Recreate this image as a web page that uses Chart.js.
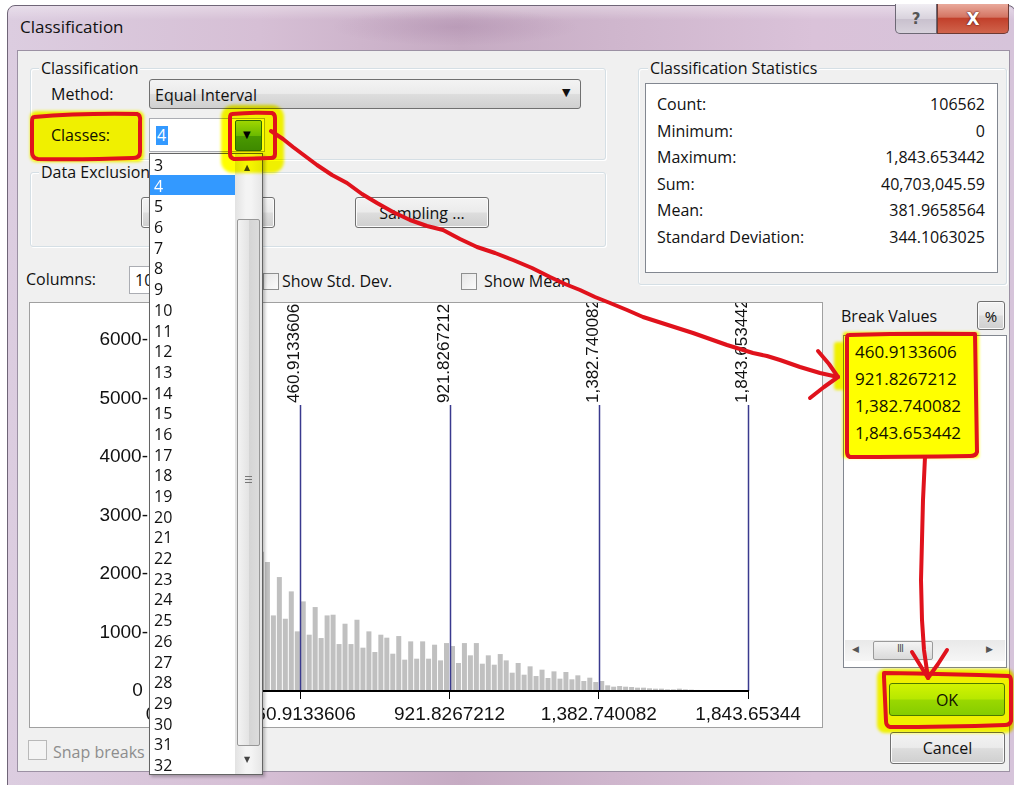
<!DOCTYPE html>
<html>
<head>
<meta charset="utf-8">
<script src="https://cdn.jsdelivr.net/npm/chart.js@4.4.1/dist/chart.umd.min.js"></script>
<style>
  html,body{margin:0;padding:0;background:#fff;}
  body{width:1014px;height:785px;position:relative;overflow:hidden;font-family:'Open Sans',sans-serif;}
  .abs{position:absolute;}
  .t{position:absolute;font:16px 'Open Sans',sans-serif;line-height:20px;white-space:nowrap;color:#111;}
  .group{position:absolute;border:1px solid #d5dfe5;border-radius:3px;box-shadow:inset 1px 1px 0 #fff,1px 1px 0 #fff;}
  .glabel{position:absolute;background:#f0f0f0;padding:0 2px;font:16px 'Open Sans',sans-serif;line-height:20px;white-space:nowrap;color:#111;}
  .btn{position:absolute;box-sizing:border-box;border:1px solid #707070;border-radius:3px;
       background:linear-gradient(#f3f3f3 0%,#ebebeb 48%,#dddddd 52%,#cfcfcf 100%);
       box-shadow:inset 0 0 0 1px #fbfbfb;font:16px 'Open Sans',sans-serif;color:#111;
       display:flex;align-items:center;justify-content:center;white-space:nowrap;}
  .chk{position:absolute;box-sizing:border-box;border:1px solid #8e8f8f;background:linear-gradient(135deg,#e6e6e6,#fbfbfb);}
  .item{height:20.7px;line-height:20.7px;padding-left:4px;font:16px 'Open Sans',sans-serif;color:#111;}
</style>
</head>
<body>
<!-- window frame -->
<div class="abs" style="left:7px;top:5px;width:1007px;height:780px;border:1px solid #6f6577;border-radius:8px 8px 0 0;
     background:linear-gradient(90deg,#dccde0 0%,#d6bfd5 25%,#c6abc3 45%,#cfb6cd 60%,#dac2d9 80%,#d6c4da 100%);"></div>
<div class="abs" style="left:8px;top:6px;width:1006px;height:14px;border-radius:8px 8px 0 0;background:linear-gradient(rgba(255,255,255,0.35),rgba(255,255,255,0));"></div>
<div class="abs" style="left:330px;top:8px;width:250px;height:38px;background:radial-gradient(ellipse at center,rgba(150,110,150,0.25),rgba(150,110,150,0) 70%);"></div>
<div class="t" style="left:20px;top:17px;font-size:17px;">Classification</div>
<!-- caption buttons -->
<div class="abs" style="left:895px;top:4px;width:42px;height:30px;box-sizing:border-box;border:1px solid #6d6875;border-top:none;border-radius:0 0 0 5px;
     background:linear-gradient(#f1eef3,#d9d3dd 50%,#c8c0cd 51%,#d8d2dc);display:flex;align-items:center;justify-content:center;font:bold 15px 'DejaVu Sans';color:#555;">?</div>
<div class="abs" style="left:937px;top:4px;width:72px;height:30px;box-sizing:border-box;border:1px solid #6d3a33;border-top:none;border-radius:0 0 5px 0;
     background:linear-gradient(#e9a99b,#d47563 45%,#c2402b 50%,#d0644c 100%);display:flex;align-items:center;justify-content:center;font:bold 17px 'DejaVu Sans';color:#fff;text-shadow:0 0 2px #5a1a10,0 0 1px #5a1a10;">X</div>

<!-- client area -->
<div class="abs" style="left:17px;top:50px;width:993px;height:722px;box-sizing:border-box;border:1px solid #9c91a4;background:#f0f0f0;"></div>

<!-- Classification group -->
<div class="group" style="left:30px;top:68px;width:574px;height:90px;"></div>
<div class="glabel" style="left:39px;top:58px;">Classification</div>
<div class="t" style="left:51px;top:84px;">Method:</div>
<div class="abs" style="left:149px;top:79px;width:432px;height:30px;box-sizing:border-box;border:1px solid #707070;border-radius:3px;
     background:linear-gradient(#f3f3f3,#ebebeb 48%,#dddddd 52%,#d0d0d0);"></div>
<div class="t" style="left:155px;top:85px;">Equal Interval</div>
<div class="abs" style="left:562px;top:86px;font:11px 'DejaVu Sans';color:#111;">&#9660;</div>

<div class="t" style="left:51px;top:125px;">Classes:</div>
<div class="abs" style="left:149px;top:118px;width:116px;height:34px;box-sizing:border-box;border:1px solid #abadb3;background:#fff;"></div>
<div class="abs" style="left:156px;top:126px;width:12px;height:19px;background:#3399ff;"></div>
<div class="t" style="left:157px;top:125px;color:#fff;">4</div>
<div class="abs" style="left:235px;top:120px;width:27px;height:31px;box-sizing:border-box;border:1px solid #2f6a12;border-radius:2px;
     background:linear-gradient(#9fd65a,#6cba2c 50%,#4a9a17 51%,#3f8a12);"></div>
<div class="abs" style="left:243px;top:129px;font:10px 'DejaVu Sans';color:#000;">&#9660;</div>

<!-- Data exclusion group -->
<div class="group" style="left:30px;top:172px;width:574px;height:73px;"></div>
<div class="glabel" style="left:39px;top:162px;">Data Exclusion</div>
<div class="btn" style="left:141px;top:197px;width:134px;height:31px;">Query ...</div>
<div class="btn" style="left:355px;top:197px;width:134px;height:31px;">Sampling ...</div>

<!-- columns row -->
<div class="t" style="left:26px;top:269px;">Columns:</div>
<div class="abs" style="left:129px;top:266px;width:62px;height:28px;box-sizing:border-box;border:1px solid #abadb3;background:#fff;"></div>
<div class="t" style="left:135px;top:270px;">100</div>
<div class="chk" style="left:263px;top:273px;width:16px;height:17px;"></div>
<div class="t" style="left:282px;top:271px;">Show Std. Dev.</div>
<div class="chk" style="left:461px;top:273px;width:16px;height:17px;"></div>
<div class="t" style="left:484px;top:271px;">Show Mean</div>

<!-- statistics group -->
<div class="group" style="left:638px;top:68px;width:367px;height:215px;"></div>
<div class="glabel" style="left:648px;top:58px;">Classification Statistics</div>
<div class="abs" style="left:645px;top:83px;width:353px;height:190px;box-sizing:border-box;border:1px solid #828790;background:#fff;"></div>
<div id="stats"></div>

<!-- histogram panel -->
<div class="abs" style="left:29px;top:302px;width:794px;height:426px;box-sizing:border-box;border:1px solid #a0a0a0;background:#fff;overflow:hidden;">
  <canvas id="hist" width="792" height="424" style="position:absolute;left:0;top:0;"></canvas>
</div>

<!-- snap breaks -->
<div class="abs" style="left:28px;top:740px;width:19px;height:20px;box-sizing:border-box;border:1px solid #b9b9b9;background:#f4f4f4;"></div>
<div class="t" style="left:53px;top:742px;color:#8d8d8d;">Snap breaks</div>

<!-- break values -->
<div class="t" style="left:841px;top:306px;">Break Values</div>
<div class="btn" style="left:977px;top:301px;width:28px;height:29px;font-size:15px;">%</div>
<div class="abs" style="left:843px;top:335px;width:164px;height:333px;box-sizing:border-box;border:1px solid #828790;background:#fff;"></div>
<div id="breaklist"></div>
<div class="abs" style="left:845px;top:640px;width:160px;height:21px;background:linear-gradient(#e9e9e9,#f6f6f6);"></div>
<div class="abs" style="left:852px;top:644px;font:9px 'DejaVu Sans';color:#555;">&#9664;</div>
<div class="abs" style="left:873px;top:641px;width:60px;height:19px;box-sizing:border-box;border:1px solid #9a9a9a;border-radius:2px;background:linear-gradient(#f4f4f4,#dadada);"></div>
<div class="abs" style="left:897px;top:643px;font:10px 'DejaVu Sans';color:#555;letter-spacing:-1px;">III</div>
<div class="abs" style="left:986px;top:644px;font:9px 'DejaVu Sans';color:#555;">&#9654;</div>

<!-- OK / Cancel -->
<div class="abs" style="left:889px;top:683px;width:116px;height:33px;box-sizing:border-box;border:1px solid #4c7a12;border-radius:3px;
     background:linear-gradient(#d2f34a,#b7e83a 48%,#9ad82a 52%,#86cc1e);display:flex;align-items:center;justify-content:center;font:16px 'Open Sans';color:#111;">OK</div>
<div class="btn" style="left:890px;top:732px;width:115px;height:32px;">Cancel</div>

<!-- dropdown list of classes -->
<div class="abs" id="dd" style="left:149px;top:153px;width:114px;height:622px;box-sizing:border-box;border:1px solid #646464;background:#fff;box-shadow:2px 2px 3px rgba(0,0,0,0.25);">
  <div id="dditems" class="abs" style="left:0;top:0;width:85px;"></div>
  <div class="abs" style="left:85px;top:0;width:27px;height:620px;background:linear-gradient(90deg,#e2e2e2,#f4f4f4 40%,#f4f4f4 60%,#e6e6e6);"></div>
  <div class="abs" style="left:94px;top:9px;font:8px 'DejaVu Sans';color:#444;">&#9650;</div>
  <div class="abs" style="left:87px;top:65px;width:23px;height:527px;box-sizing:border-box;border:1px solid #979797;border-radius:2px;background:linear-gradient(90deg,#f3f3f3,#e4e4e4 50%,#d4d4d4 51%,#dcdcdc);"></div>
  <div class="abs" style="left:95px;top:322px;width:7px;height:1px;background:#777;"></div>
  <div class="abs" style="left:95px;top:325px;width:7px;height:1px;background:#777;"></div>
  <div class="abs" style="left:95px;top:328px;width:7px;height:1px;background:#777;"></div>
  <div class="abs" style="left:94px;top:601px;font:8px 'DejaVu Sans';color:#444;">&#9660;</div>
</div>

<!-- yellow highlighter (multiply) -->
<svg class="abs" style="left:0;top:0;mix-blend-mode:multiply;pointer-events:none;" width="1014" height="785">
  <defs><filter id="soft" x="-10%" y="-10%" width="120%" height="120%"><feGaussianBlur stdDeviation="1.6"/></filter></defs>
  <g fill="#ffff00" filter="url(#soft)">
    <rect x="30" y="111" width="114" height="51" rx="6"/>
    <rect x="221" y="105" width="63" height="68" rx="12"/>
    <rect x="843" y="332" width="136" height="126" rx="2"/>
    <rect x="834" y="342" width="12" height="48" rx="3"/>
    <rect x="877" y="669" width="137" height="64" rx="8"/>
  </g>
</svg>

<!-- red annotations -->
<svg class="abs" style="left:0;top:0;pointer-events:none;" width="1014" height="785">
  <g fill="none" stroke="#e0121c" stroke-width="4" stroke-linejoin="round" stroke-linecap="round">
    <path d="M34,117 Q80,113 137,114 Q141,115 140,122 L140,152 Q140,158 133,158 Q80,160 38,159 Q32,158 32,152 L32,122 Q32,117 34,117 Z"/>
    <path d="M232,114 Q252,112 272,113 Q275,114 275,118 L275,154 Q275,158 271,158 L234,159 Q230,158 230,154 L230,118 Q230,114 232,114 Z"/>
    <path d="M849,335 Q910,333 975,334 L977,452 Q976,456 970,456 Q905,457 850,457 Q847,456 847,452 L847,338 Q847,335 849,335 Z"/>
    <path d="M884,673 Q950,674 1009,676 Q1011,677 1011,681 L1011,721 Q1010,725 1005,725 Q945,727 890,727 Q886,726 886,721 L884,677 Z"/>
    <polyline points="271,131 283,139 293,147 305,156 317,165 332,175 347,183 362,194 377,203 393,212 410,220 427,226 443,230 460,239 477,247 495,253 513,260 532,268 550,277 565,284 580,290 595,297 610,303 627,310 643,317 668,325 693,333 710,339 727,345 740,349 753,353 767,356 780,360 800,367 820,373 838,377"/>
    <polyline points="818,351 829,364 838,377 824,387 810,398"/>
    <polyline points="925,457 923,500 922,540 921,580 922,620 924,650 928,678"/>
    <polyline points="912,652 920,665 928,678 938,664 947,650"/>
  </g>
</svg>

<script>
// ---------- data ----------
const statLabels = ['Count:', 'Minimum:', 'Maximum:', 'Sum:', 'Mean:', 'Standard Deviation:'];
const statValues = ['106562', '0', '1,843.653442', '40,703,045.59', '381.9658564', '344.1063025'];
const classOptions = ['3','4','5','6','7','8','9','10','11','12','13','14','15','16','17','18','19','20','21','22','23','24','25','26','27','28','29','30','31','32'];
const selectedClass = '4';
const breakValues = [460.9133606, 921.8267212, 1382.740082, 1843.653442];
const breakLabels = ['460.9133606', '921.8267212', '1,382.740082', '1,843.653442'];
const xTickValues = [0, 460.9133606, 921.8267212, 1382.740082, 1843.653442];
const xTickLabels = ['0', '460.9133606', '921.8267212', '1,382.740082', '1,843.65344'];
const yTickValues = [0, 1000, 2000, 3000, 4000, 5000, 6000];
const yTickLabels = ['0 ', '1000-', '2000-', '3000-', '4000-', '5000-', '6000-'];
const dataMin = 0;
const dataMax = 1843.653442;
const countMax = 6500;
// histogram counts, 100 equal-width columns (first 18 are hidden behind the drop-down list: estimated)
const binCounts = [
  6450, 4300, 5600, 3900, 4900, 3500, 4300, 3200, 3800, 2900,
  3500, 2700, 3100, 2600, 2900, 2300, 2700, 2100, 2380, 2205,
  1293, 1949, 1236, 1704, 1020, 1533, 963, 1436, 906, 1293,
  1305, 803, 1151, 803, 1219, 741, 1020, 667, 963, 912,
  638, 940, 536, 849, 553, 849, 553, 792, 524, 820,
  769, 479, 820, 610, 820, 467, 610, 450, 632, 524,
  313, 479, 279, 422, 256, 365, 222, 336, 211, 325,
  200, 268, 171, 228, 154, 171, 97, 74, 85, 74,
  68, 57, 57, 46, 40, 40, 28, 28, 40, 28,
  23, 18, 6, 3, 2, 1, 1, 0, 0, 1
];
const binLabels = binCounts.map((_, i) => 'c' + (i + 1));

// ---------- dialog texts ----------
const statsDiv = document.getElementById('stats');
const rowCenters = [104, 130.5, 157, 183.5, 210, 236.5];
statLabels.forEach((lab, i) => {
  const a = document.createElement('div'); a.className = 't';
  a.style.left = '657px'; a.style.top = (rowCenters[i] - 10) + 'px'; a.textContent = lab;
  statsDiv.appendChild(a);
  const b = document.createElement('div'); b.className = 't';
  b.style.right = (1014 - 985) + 'px'; b.style.top = (rowCenters[i] - 10) + 'px'; b.textContent = statValues[i];
  statsDiv.appendChild(b);
});
const bl = document.getElementById('breaklist');
breakLabels.forEach((lab, i) => {
  const d = document.createElement('div'); d.className = 't';
  d.style.left = '855px'; d.style.top = (342 + i * 27) + 'px'; d.style.fontSize = '17px'; d.textContent = lab;
  bl.appendChild(d);
});
const dd = document.getElementById('dditems');
classOptions.forEach(o => {
  const d = document.createElement('div'); d.className = 'item'; d.textContent = o;
  if (o === selectedClass) { d.style.background = '#3399ff'; d.style.color = '#fff'; }
  dd.appendChild(d);
});

// ---------- histogram ----------
const breakPlugin = {
  id: 'breakLines',
  afterDatasetsDraw(chart) {
    const {ctx, chartArea} = chart;
    const xs = chart.scales.x;
    ctx.save();
    breakValues.forEach((v, i) => {
      const px = Math.round(xs.getPixelForValue(v)) + 0.5;
      const labelBottom = chartArea.top + 92;
      ctx.strokeStyle = '#3a3a8e';
      ctx.lineWidth = 1.5;
      ctx.beginPath();
      ctx.moveTo(px, labelBottom + 2);
      ctx.lineTo(px, chartArea.bottom);
      ctx.stroke();
      ctx.save();
      ctx.translate(px - 2, labelBottom);
      ctx.rotate(-Math.PI / 2);
      ctx.font = '17px "Liberation Sans", Arial, sans-serif';
      ctx.fillStyle = '#111';
      ctx.textAlign = 'left';
      ctx.textBaseline = 'alphabetic';
      ctx.fillText(breakLabels[i], 0, 0);
      ctx.restore();
    });
    ctx.restore();
  }
};

new Chart(document.getElementById('hist'), {
  type: 'bar',
  data: {
    labels: binLabels,
    datasets: [{
      data: binCounts,
      xAxisID: 'xb',
      yAxisID: 'y',
      backgroundColor: '#c0c0c0',
      borderWidth: 0,
      barPercentage: 0.84,
      categoryPercentage: 1.0
    }]
  },
  options: {
    responsive: false,
    animation: false,
    devicePixelRatio: 1,
    layout: { padding: { top: 8, right: 74, bottom: 0, left: 0 } },
    plugins: { legend: { display: false }, tooltip: { enabled: false }, title: { display: false } },
    scales: {
      xb: {
        type: 'category',
        display: false,
        offset: true,
        grid: { offset: true }
      },
      x: {
        type: 'linear',
        position: 'bottom',
        z: 1,
        min: dataMin,
        max: dataMax,
        offset: false,
        afterBuildTicks: (s) => { s.ticks = xTickValues.map(v => ({ value: v })); },
        afterFit: (s) => { s.height = 36; s.paddingLeft = 0; s.paddingRight = 0; },
        ticks: {
          z: 2,
          autoSkip: false,
          maxRotation: 0,
          minRotation: 0,
          padding: 4,
          color: '#111',
          font: { family: '"Liberation Sans", Arial, sans-serif', size: 19 },
          callback: (v, i) => xTickLabels[i]
        },
        grid: { z: 2, display: true, offset: false, drawOnChartArea: false, drawTicks: true, tickLength: 8, color: '#000', lineWidth: 1 },
        border: { z: 2, display: true, color: '#000', width: 2 }
      },
      y: {
        type: 'linear',
        min: 0,
        max: countMax,
        afterBuildTicks: (s) => { s.ticks = yTickValues.map(v => ({ value: v })); },
        afterFit: (s) => { s.width = 121; s.paddingTop = 0; s.paddingBottom = 0; },
        ticks: {
          padding: 3,
          color: '#111',
          font: { family: '"Liberation Sans", Arial, sans-serif', size: 19 },
          callback: (v, i) => yTickLabels[i]
        },
        grid: { display: false, drawTicks: false },
        border: { display: false }
      }
    }
  },
  plugins: [breakPlugin]
});
</script>
</body>
</html>
